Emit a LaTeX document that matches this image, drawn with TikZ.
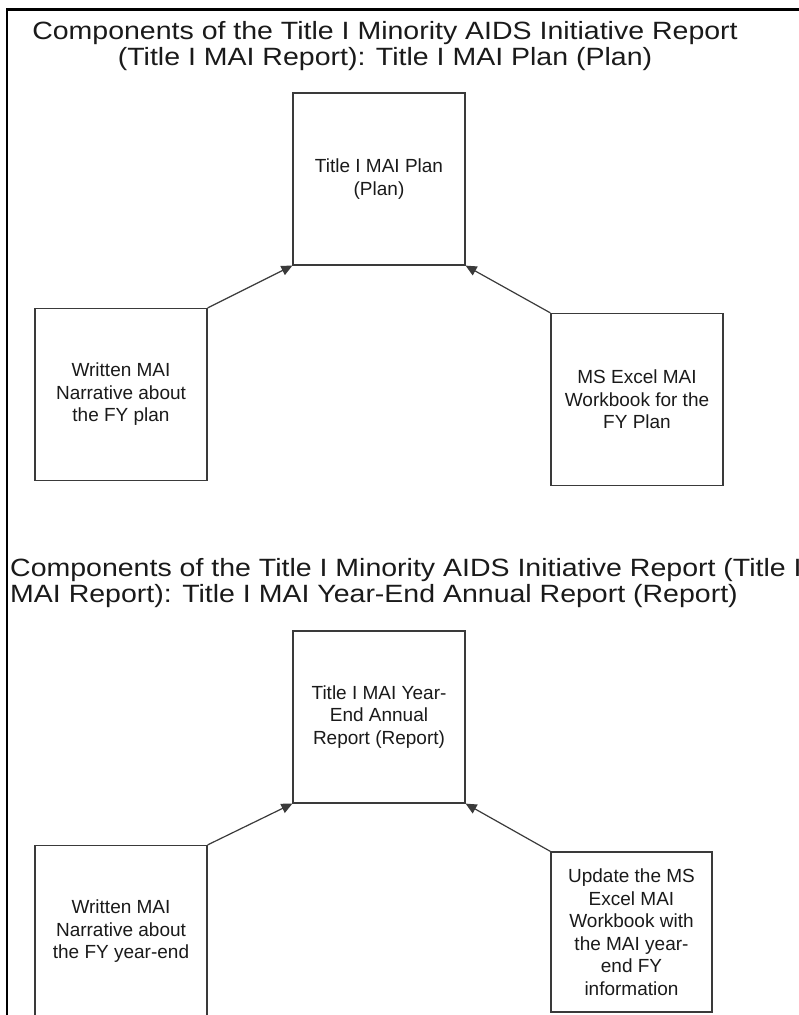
\documentclass[tikz,border=0pt]{standalone}
\usepackage{fontspec}
\setmainfont{Liberation Sans}
\newfontfamily\headfont[FakeStretch=1.14]{Liberation Sans}
\definecolor{maiInk}{HTML}{1A1A1A}
\definecolor{maiEdge}{HTML}{3A3A3A}
\usetikzlibrary{arrows.meta}

\begin{document}
\begin{tikzpicture}[
  x=1pt,y=-1pt,
  font=\fontsize{19}{22.5}\selectfont,
  part/.style={draw=maiEdge,line width=1.2pt,minimum width=172pt,minimum height=172pt,inner sep=0pt,align=center,text=maiInk},
  head/.style={font=\headfont\fontsize{25}{26}\selectfont,inner sep=0pt,text=maiInk},
  feed/.style={draw=maiEdge,line width=1.2pt,-{Triangle[length=11pt,width=10pt]}}
]
\useasboundingbox (0,0) rectangle (799,1015);
\draw[black,line width=2.2pt] (7,1015) |- (799,9.5);

\node[head,align=center,anchor=base] (headA) at (385,65)
  {Components of the Title I Minority AIDS Initiative Report\\(Title I MAI Report): Title I MAI Plan (Plan)};
\node[part] (plan)  at (379,179)   {Title I MAI Plan\\(Plan)};
\node[part] (narrA) at (121,394.5) {Written MAI\\Narrative about\\the FY plan};
\node[part] (workA) at (637,399.5) {MS Excel MAI\\Workbook for the\\FY Plan};

\node[head,align=left,anchor=base west] (headB) at (10,602)
  {Components of the Title I Minority AIDS Initiative Report (Title I\\MAI Report): Title I MAI Year-End Annual Report (Report)};
\node[part] (report) at (379,717)   {Title I MAI Year-\\End Annual\\Report (Report)};
\node[part] (narrB)  at (121,931.5) {Written MAI\\Narrative about\\the FY year-end};
\node[part,minimum width=161pt,minimum height=160pt] (workB) at (631.5,932)
  {Update the MS\\Excel MAI\\Workbook with\\the MAI year-\\end FY\\information};

\foreach \from/\to in {narrA.north east/plan.south west,workA.north west/plan.south east,
                       narrB.north east/report.south west,workB.north west/report.south east}
  \draw[feed] (\from) -- (\to);
\end{tikzpicture}
\end{document}
